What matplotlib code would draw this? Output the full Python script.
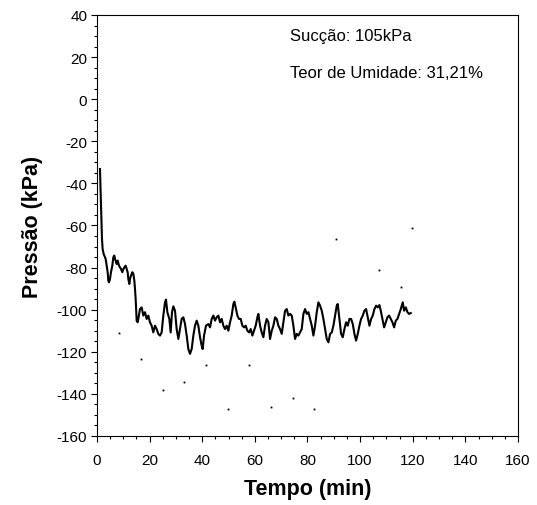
import matplotlib
matplotlib.use("Agg")
import matplotlib.pyplot as plt
from matplotlib.ticker import MultipleLocator

plt.rcParams['font.family'] = ['Liberation Sans', 'DejaVu Sans']
plt.rcParams['axes.unicode_minus'] = False

tempo = [1.14, 1.39, 1.65, 1.90, 2.15, 2.53, 2.79, 3.30, 3.68, 4.06, 4.31, 4.56, 4.94, 5.32,
         5.83, 6.21, 6.59, 6.84, 7.10, 7.48, 7.86, 8.37, 8.75, 9.13, 9.63, 10.01, 10.39, 10.90,
         11.28, 11.66, 11.91, 12.29, 12.55, 12.93, 13.44, 13.82, 14.20, 14.45, 14.70, 14.96,
         15.08, 15.46,
         15.71, 16.34, 16.98, 17.61, 18.24, 18.88, 19.51, 20.14, 20.78, 21.41, 22.05, 22.68,
         23.31, 23.95, 24.58, 25.21, 25.85, 26.23, 26.74, 27.50, 28.00, 28.51, 29.02, 29.65,
         30.28, 30.92, 31.55, 32.18, 32.82, 33.45, 34.09, 34.72, 35.35, 35.99, 36.62, 37.25,
         37.89, 38.52, 39.16, 39.79, 40.17, 40.68, 41.44, 42.32, 42.96, 43.59, 44.23, 44.86,
         45.49, 46.13, 46.76, 47.39, 48.03, 48.66, 49.30, 49.93, 50.56, 51.20, 51.83, 52.21,
         52.84, 53.35, 53.98, 54.62, 55.25, 55.89, 56.52, 57.15, 57.79, 58.42, 59.05, 59.69,
         60.32, 60.96, 61.34, 61.97, 62.60, 63.24, 63.87, 64.50, 65.14, 65.77, 66.41, 67.04,
         67.67, 68.31, 68.94, 69.57, 70.21, 70.84, 71.48, 72.11, 72.74, 73.38, 74.01, 74.64,
         75.28, 75.91, 76.55, 77.18, 77.81, 78.45, 79.08, 79.71, 80.35, 80.98, 81.62, 82.25,
         82.88, 83.52, 84.15, 84.78, 85.42, 86.05, 86.68, 87.32, 87.95, 88.59, 89.22, 89.85,
         90.49, 91.12, 91.50, 92.14, 92.77, 93.40, 94.04, 94.67, 95.30, 95.94, 96.57, 97.21,
         97.84, 98.47, 99.11, 99.74, 100.37, 101.01, 101.64, 102.27, 102.91, 103.54, 104.18,
         104.81, 105.44, 106.08, 106.71, 107.34, 107.85, 108.49, 109.12, 109.75, 110.39,
         111.02, 111.65, 112.29, 112.92, 113.56, 114.19, 114.82, 115.46, 116.21, 116.72,
         117.36, 117.99, 118.62, 119.26]

pressao = [-33.2, -44.2, -56.9, -66.4, -71.2, -73.5, -74.3, -75.9, -79.1, -82.2, -86.2, -87.0,
           -85.4, -82.2, -79.1, -75.1, -74.3, -75.9, -76.7, -78.3, -76.7, -79.1, -79.9, -80.7,
           -82.2, -80.7, -79.9, -79.1, -80.7, -82.2, -85.4, -87.8, -85.4, -83.8, -82.2, -83.0,
           -86.2, -90.2, -94.9, -101.3, -105.2, -106.0,
           -104.4, -99.7, -98.9, -102.8, -101.2, -104.4, -102.8, -106.0, -107.6, -110.8, -107.6,
           -109.2, -111.5, -112.3, -110.8, -102.8, -96.5, -95.2, -101.2, -104.4, -110.8, -101.2,
           -98.4, -100.5, -109.2, -113.9, -109.2, -104.4, -103.6, -106.8, -112.3, -118.7, -121.0,
           -118.7, -112.3, -107.6, -105.2, -107.6, -113.1, -117.1, -118.7, -112.3, -107.6, -106.8,
           -108.4, -104.4, -102.8, -105.2, -103.6, -102.8, -106.0, -104.4, -107.6, -109.2, -107.6,
           -110.0, -106.0, -102.8, -97.3, -96.2, -99.7, -102.8, -104.4, -104.4, -107.6, -108.4,
           -107.6, -110.0, -110.8, -109.2, -112.3, -110.0, -107.6, -103.6, -102.0, -107.6, -110.8,
           -113.1, -107.6, -104.4, -106.0, -113.9, -110.0, -107.6, -103.6, -104.4, -107.6, -109.2,
           -111.5, -106.0, -100.5, -99.7, -102.8, -102.0, -102.8, -107.6, -113.9, -111.5, -112.3,
           -110.8, -109.2, -102.0, -99.7, -102.0, -101.2, -104.4, -107.6, -112.3, -107.6, -101.2,
           -96.5, -98.1, -100.5, -104.4, -109.2, -113.9, -115.5, -111.5, -110.8, -107.6, -102.8,
           -98.1, -97.3, -104.4, -111.5, -113.1, -109.2, -106.0, -107.6, -104.4, -104.4, -106.8,
           -111.5, -114.7, -111.5, -107.6, -104.4, -102.8, -100.5, -99.7, -103.6, -107.6, -104.4,
           -102.8, -99.7, -98.1, -98.9, -97.8, -100.5, -104.4, -108.4, -106.0, -103.6, -102.8,
           -104.4, -106.0, -108.4, -105.2, -104.4, -102.0, -99.7, -96.5, -100.5, -98.9, -101.2,
           -102.0, -101.6]

# isolated stray points visible in the plot
pontos_t = [8.4, 16.8, 25.2, 33.2, 41.5, 49.9, 57.9, 66.2, 74.6, 82.6, 91.0, 107.3, 115.7, 119.8]
pontos_p = [-111.2, -123.6, -138.3, -134.5, -126.3, -147.3, -126.3, -146.4, -142.1, -147.3,
            -66.6, -81.3, -89.4, -61.3]

x_ticks = [0, 20, 40, 60, 80, 100, 120, 140, 160]
y_ticks = [40, 20, 0, -20, -40, -60, -80, -100, -120, -140, -160]
anotacoes = ["Sucção: 105kPa", "Teor de Umidade: 31,21%"]

fig = plt.figure(figsize=(5.37, 5.06), dpi=100)
ax = fig.add_axes([0.1806, 0.1364, 0.784, 0.832])

ax.plot(tempo, pressao, color='black', lw=1.5)
ax.plot(pontos_t, pontos_p, ls='none', marker='s', ms=1.3, mec='none', mfc='black')

ax.set_xlim(0, 160)
ax.set_ylim(-160, 40)
ax.set_xticks(x_ticks)
ax.set_yticks(y_ticks)
ax.xaxis.set_minor_locator(MultipleLocator(5))
ax.yaxis.set_minor_locator(MultipleLocator(5))
ax.tick_params(which='major', direction='out', length=4, width=0.8, labelsize=11, pad=3,
               colors='black')
ax.tick_params(which='minor', direction='out', length=2.5, width=0.8)
ax.tick_params(axis='x', pad=8)
for s in ax.spines.values():
    s.set_linewidth(0.8)

ax.set_xlabel('Tempo (min)', fontsize=15.5, fontweight='bold', labelpad=8)
ax.set_ylabel('Pressão (kPa)', fontsize=15.5, fontweight='bold', labelpad=10)

ax.text(73.4, 30.2, anotacoes[0], fontsize=12, va='center', ha='left')
ax.text(73.4, 12.8, anotacoes[1], fontsize=12, va='center', ha='left')

fig.savefig('out.png', dpi=100)
